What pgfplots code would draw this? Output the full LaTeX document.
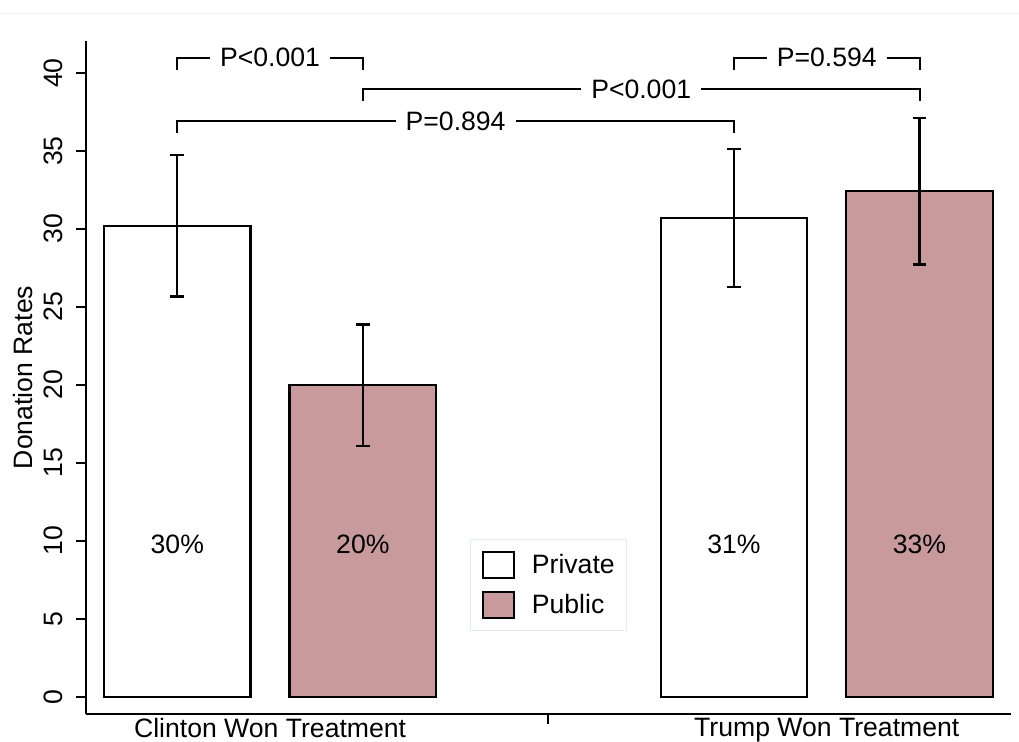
\documentclass[border=0pt]{standalone}
\usepackage{fontspec}
\setmainfont{Liberation Sans}
\usepackage{pgfplots}
\pgfplotsset{compat=1.18}
\definecolor{pubfill}{RGB}{200,154,156}
\definecolor{legborder}{RGB}{228,236,242}
\definecolor{topline}{RGB}{238,238,238}
\newcommand{\fs}{\fontsize{13.3}{16}\selectfont}

\begin{document}
\begin{tikzpicture}[x=1pt,y=1pt]
\useasboundingbox (0,0) rectangle (509.5,371);
\draw[topline, line width=0.6pt] (0,364.35) -- (509.5,364.35);
\begin{axis}[
  at={(43pt,14pt)}, anchor=south west,
  scale only axis, width=462.5pt, height=336.5pt,
  xmin=0.508, xmax=5.493, ymin=-1.11, ymax=42.06,
  axis x line*=bottom, axis y line*=left,
  axis line style={line width=1pt, -},
  clip=false,
  /pgf/number format/assume math mode=true,
  ytick={0,5,...,40},
  tick style={line width=1pt, black},
  tick align=outside,
  major tick length=5pt,
  yticklabel style={font=\fs, rotate=90, anchor=south, inner sep=0pt, yshift=6.5pt},
  xtick={3},
  xticklabels={},
  extra x ticks={1.5,4.5},
  extra x tick labels={Clinton Won Treatment, Trump Won Treatment},
  extra x tick style={major tick length=0pt, xticklabel style={font=\fs, anchor=north, inner sep=0pt, yshift=-2pt}},
  every axis y label/.style={at={(axis description cs:0,0.5)}, rotate=90, anchor=base, yshift=26.5pt, font=\fs},
  ylabel={Donation Rates},
  legend cell align=left,
  legend style={at={(axis cs:3,7.16)}, anchor=center, draw=legborder, line width=0.6pt,
    inner xsep=6pt, inner ysep=5.5pt, row sep=6pt, column sep=8.5pt,
    nodes={inner sep=0pt, font=\fs}},
]
\addplot[ybar, bar width=0.79, bar shift=0pt, fill=white, draw=black, line width=1.1pt,
  legend image code/.code={\draw[fill=white, draw=black, line width=1.1pt] (0pt,-6.5pt) rectangle (15.3pt,6.5pt);},
  error bars/.cd, y dir=both, y explicit,
  error bar style={line width=1.2pt, black},
  error mark options={line width=1.2pt, black, mark size=3.4pt, rotate=90}]
  coordinates {(1,30.21) +- (0,4.55) (4,30.69) +- (0,4.43)};
\addlegendentry{Private}
\addplot[ybar, bar width=0.79, bar shift=0pt, fill=pubfill, draw=black, line width=1.1pt,
  legend image code/.code={\draw[fill=pubfill, draw=black, line width=1.1pt] (0pt,-6.5pt) rectangle (15.3pt,6.5pt);},
  error bars/.cd, y dir=both, y explicit,
  error bar style={line width=1.2pt, black},
  error mark options={line width=1.2pt, black, mark size=3.4pt, rotate=90}]
  coordinates {(2,19.97) +- (0,3.9) (5,32.42) +- (0,4.7)};
\addlegendentry{Public}
% significance brackets
\addplot[black, line width=1pt, forget plot] coordinates {(1,40.23) (1,41.0) (2,41.0) (2,40.23)};
\addplot[black, line width=1pt, forget plot] coordinates {(2,38.21) (2,38.98) (5,38.98) (5,38.21)};
\addplot[black, line width=1pt, forget plot] coordinates {(1,36.16) (1,36.93) (4,36.93) (4,36.16)};
\addplot[black, line width=1pt, forget plot] coordinates {(4,40.23) (4,41.0) (5,41.0) (5,40.23)};
\node[fill=white, inner xsep=5pt, inner ysep=1pt, font=\fs] at (axis cs:1.5,41.0) {P<0.001};
\node[fill=white, inner xsep=5pt, inner ysep=1pt, font=\fs] at (axis cs:3.5,38.98) {P<0.001};
\node[fill=white, inner xsep=5pt, inner ysep=1pt, font=\fs] at (axis cs:2.5,36.93) {P=0.894};
\node[fill=white, inner xsep=5pt, inner ysep=1pt, font=\fs] at (axis cs:4.5,41.0) {P=0.594};
% bar labels
\node[font=\fs] at (axis cs:1,9.8) {30\%};
\node[font=\fs] at (axis cs:2,9.8) {20\%};
\node[font=\fs] at (axis cs:4,9.8) {31\%};
\node[font=\fs] at (axis cs:5,9.8) {33\%};
\end{axis}
\end{tikzpicture}
\end{document}
